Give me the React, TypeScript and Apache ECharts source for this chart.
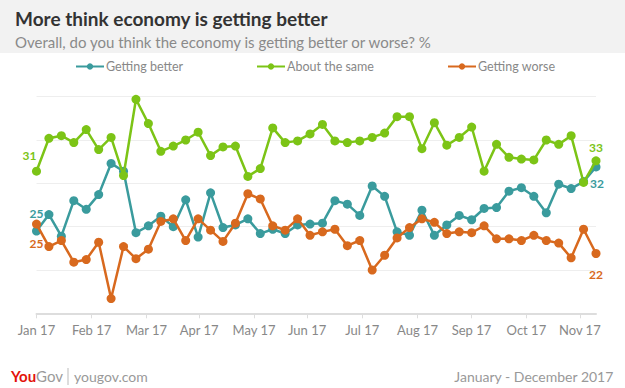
import React, { useEffect, useRef } from "react";
import * as echarts from "echarts";

const seriesNames = ["Getting better", "About the same", "Getting worse"];
const seriesColors = ["#3a9b9d", "#7cc416", "#d8691e"];

const gettingBetter = [24.5, 26.4, 23.9, 28.0, 27.0, 28.7, 32.3, 31.4, 24.3, 25.1, 26.2, 25.0, 28.1, 23.8, 28.9, 24.9, 25.2, 25.9, 24.2, 24.7, 24.2, 25.2, 25.3, 25.4, 28.0, 27.6, 26.3, 29.7, 28.5, 24.4, 24.0, 26.9, 24.0, 25.2, 26.3, 25.8, 27.1, 27.2, 29.1, 29.5, 28.5, 26.6, 29.9, 29.4, 30.2, 31.9];
const aboutTheSame = [31.4, 35.2, 35.5, 34.7, 36.2, 33.9, 35.3, 30.9, 39.7, 36.9, 33.7, 34.3, 35.0, 35.9, 33.2, 34.2, 34.3, 30.8, 31.7, 36.4, 34.7, 34.9, 35.7, 36.8, 34.9, 34.7, 34.9, 35.3, 35.8, 37.7, 37.7, 34.0, 37.0, 34.4, 35.3, 36.5, 31.4, 34.5, 33.0, 32.8, 32.7, 35.0, 34.5, 35.5, 30.1, 32.6];
const gettingWorse = [25.3, 22.7, 23.4, 20.9, 21.2, 23.2, 16.7, 22.7, 21.3, 22.4, 25.6, 25.9, 23.4, 25.9, 24.6, 23.3, 25.4, 28.8, 28.2, 25.1, 24.6, 25.9, 24.0, 24.4, 24.7, 22.8, 23.4, 20.0, 21.7, 23.7, 24.9, 25.9, 25.5, 24.2, 24.4, 24.3, 25.1, 23.6, 23.6, 23.4, 24.0, 23.4, 23.1, 21.4, 24.7, 21.9];

// month tick labels and their positions along the week index
const monthLabels = ["Jan 17", "Feb 17", "Mar 17", "Apr 17", "May 17", "Jun 17", "Jul 17", "Aug 17", "Sep 17", "Oct 17", "Nov 17"];
const monthTickPos = [0, 4.43, 8.85, 13.08, 17.5, 21.77, 26.2, 30.65, 34.98, 39.4, 43.7];

const yTicks = { min: 15, max: 40, interval: 5 };

// label offsets [first point, last point] per series
const labelOffsets = [
  [[0, -17], [1, 17]],
  [[-7, -16], [0, -13]],
  [[0, 19], [0, 21]],
];

const legendLefts = [75, 256, 447];

const FONT = "Lato, 'Open Sans', sans-serif";

export default function App() {
  const ref = useRef<HTMLDivElement>(null);
  useEffect(() => {
    document.body.style.margin = "0";
    const chart = echarts.init(ref.current!, null, { renderer: "svg" });
    const allSeries = [gettingBetter, aboutTheSame, gettingWorse];
    const half = 4.5;
    const series = allSeries.map((vals, si) => ({
      name: seriesNames[si],
      type: "line",
      symbol: "circle",
      symbolSize: 9,
      color: seriesColors[si],
      lineStyle: { width: 2.5, color: seriesColors[si] },
      itemStyle: { color: seriesColors[si] },
      z: 2 + si,
      data: vals.map((v, i) => {
        if (i === 0 || i === vals.length - 1) {
          const off = labelOffsets[si][i === 0 ? 0 : 1];
          return {
            value: [i, v],
            label: {
              show: true,
              position: [half + off[0], half + off[1]],
              align: "center",
              verticalAlign: "middle",
              formatter: (p: any) => String(Math.round(p.value[1])),
              color: seriesColors[si],
              fontFamily: FONT,
              fontWeight: "bold",
              fontSize: 12,
            },
          };
        }
        return [i, v];
      }),
    }));

    chart.setOption({
      animation: false,
      backgroundColor: "#ffffff",
      title: [
        {
          text: "More think economy is getting better",
          left: 10,
          top: 4,
          textStyle: { fontFamily: FONT, fontWeight: "bold", fontSize: 19, color: "#333333" },
        },
        {
          text: "Overall, do you think the economy is getting better or worse? %",
          left: 10,
          top: 29,
          textStyle: { fontFamily: FONT, fontWeight: "normal", fontSize: 15, color: "#8a8a8a" },
        },
      ],
      legend: seriesNames.map((name, k) => ({
        data: [name],
        left: legendLefts[k],
        top: 60,
        padding: 0,
        itemWidth: 28,
        itemHeight: 8,
        textStyle: { fontFamily: FONT, fontSize: 12.5, color: "#888888", padding: [0, 0, 0, -3] },
      })),
      grid: { left: 36.5, right: 29, top: 96.7, bottom: 74.7, containLabel: false },
      xAxis: {
        type: "value",
        min: 0,
        max: 45,
        axisLine: { show: true, lineStyle: { color: "#dddddd", width: 2 } },
        axisTick: {
          show: true,
          customValues: monthTickPos,
          length: 5,
          lineStyle: { color: "#dddddd", width: 1 },
        },
        axisLabel: {
          customValues: monthTickPos,
          formatter: (v: number) => {
            const k = monthTickPos.findIndex((p) => Math.abs(p - v) < 1e-6);
            return k >= 0 ? monthLabels[k] : "";
          },
          color: "#888888",
          fontFamily: FONT,
          fontSize: 13,
          margin: 10,
        },
        splitLine: { show: false },
      },
      yAxis: {
        type: "value",
        min: yTicks.min,
        max: yTicks.max,
        interval: yTicks.interval,
        axisLabel: { show: false },
        axisLine: { show: false },
        axisTick: { show: false },
        splitLine: { lineStyle: { color: "#eeeeee", width: 1 } },
      },
      graphic: [
        { type: "rect", left: 0, top: 0, shape: { width: 625, height: 53 }, style: { fill: "#f2f2f2" }, z: -10 },
        {
          type: "text",
          left: 11,
          top: 368,
          style: {
            text: "{a|You}{b|Gov}",
            rich: {
              a: { fontFamily: FONT, fontWeight: "bold", fontSize: 15, fill: "#e3120b", color: "#e3120b" },
              b: { fontFamily: FONT, fontWeight: "normal", fontSize: 15, fill: "#9a9a9a", color: "#9a9a9a" },
            },
          },
        },
        { type: "line", shape: { x1: 68, y1: 368, x2: 68, y2: 385 }, style: { stroke: "#bbbbbb", lineWidth: 1 } },
        {
          type: "text",
          left: 74,
          top: 369,
          style: { text: "yougov.com", fontFamily: FONT, fontSize: 14, fill: "#999999" },
        },
        {
          type: "text",
          right: 11,
          top: 369,
          style: { text: "January - December 2017", fontFamily: FONT, fontSize: 14, fill: "#999999" },
        },
      ],
      series,
    });
    return () => chart.dispose();
  }, []);
  return <div ref={ref} style={{ width: 625, height: 388 }} />;
}
